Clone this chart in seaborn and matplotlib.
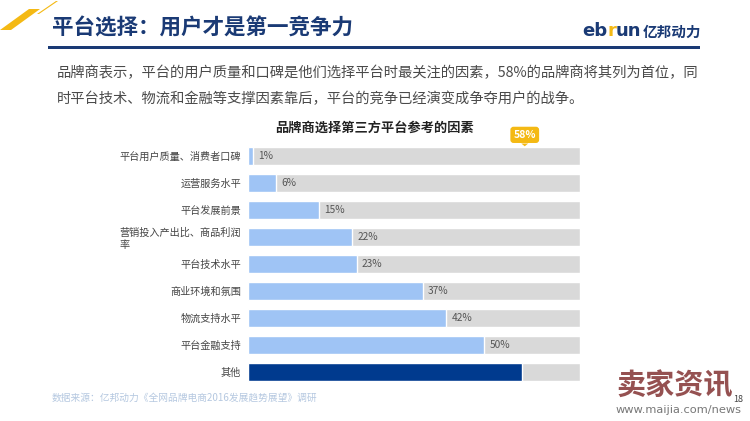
import matplotlib
matplotlib.use("Agg")
import matplotlib.pyplot as plt
from matplotlib.patches import Polygon
import seaborn as sns
import pandas as pd

# data
factors = ["平台用户质量、消费者口碑", "运营服务水平", "平台发展前景",
           "营销投入产出比、商品利润\n率", "平台技术水平", "商业环境和氛围",
           "物流支持水平", "平台金融支持", "其他"]
values = [1, 6, 15, 22, 23, 37, 42, 50, 58]
value_labels = ["1%", "6%", "15%", "22%", "23%", "37%", "42%", "50%", ""]
track_max = 70.3
callout_value = 58

sns.set_style("white")
plt.rcParams['font.family'] = ['Noto Sans CJK SC', 'DejaVu Sans']

LIGHT = "#9fc4f5"
DARK = "#003a8e"
GRAY = "#d9d9d9"
NAVY = "#1a3a75"
YELLOW = "#f4b914"

df = pd.DataFrame({"factor": factors, "value": values,
                   "track": [track_max] * len(factors)})
colors = [LIGHT] * (len(factors) - 1) + [DARK]

fig = plt.figure(figsize=(7.5, 4.21), dpi=100)
W, H = 750, 421

def fx(px):
    return px / W

def fy(py):
    return 1 - py / H

def poly(pts, color):
    fig.patches.append(Polygon([[fx(a), fy(b)] for a, b in pts], closed=True,
                               transform=fig.transFigure, color=color, lw=0))

# header decoration
poly([(0, 30), (11, 30), (40, 9), (29, 9)], YELLOW)
poly([(37, 14), (39, 14), (58, 1), (56, 1)], YELLOW)
poly([(48, 45.5), (700, 45.5), (700, 48.5), (48, 48.5)], NAVY)

fig.text(fx(52), fy(28), "平台选择：用户才是第一竞争力", fontsize=15.5, fontweight="bold",
         color=NAVY, va="center", ha="left")

# logo
for part, px, col in [("eb", 582, NAVY), ("r", 607.5, YELLOW), ("un", 616, NAVY)]:
    fig.text(fx(px), fy(31), part, fontsize=13, fontweight="bold", color=col,
             va="center", ha="left", family="DejaVu Sans")
fig.text(fx(643), fy(32), "亿邦动力", fontsize=10.5, fontweight="bold", color=NAVY,
         va="center", ha="left")

para1 = "品牌商表示，平台的用户质量和口碑是他们选择平台时最关注的因素，58%的品牌商将其列为首位，同"
para2 = "时平台技术、物流和金融等支撑因素靠后，平台的竞争已经演变成争夺用户的战争。"
fig.text(fx(57), fy(73), para1, fontsize=10.3, color="#4a4a4a", va="center", ha="left")
fig.text(fx(57), fy(99), para2, fontsize=10.3, color="#4a4a4a", va="center", ha="left")

fig.text(fx(375), fy(128), "品牌商选择第三方平台参考的因素", fontsize=9.5, fontweight="bold",
         color="#222222", va="center", ha="center")

# chart
ax = fig.add_axes([fx(248), fy(385.5), fx(580) - fx(248), (385.5 - 142.5) / H])
sns.barplot(data=df, x="track", y="factor", color=GRAY, saturation=1, width=0.63, ax=ax)
sns.barplot(data=df, x="value", y="factor", hue="factor", palette=colors, saturation=1,
            width=0.63, legend=False, ax=ax)
ax.set_xlim(0, track_max)
ax.set_xlabel("")
ax.set_ylabel("")
ax.set_xticks([])
sns.despine(ax=ax, left=True, bottom=True)
ax.tick_params(axis="y", length=0, pad=5)
for lab in ax.get_yticklabels():
    lab.set_fontsize(7.3)
    lab.set_color("#444444")
    lab.set_multialignment("left")

for i, (v, t) in enumerate(zip(values, value_labels)):
    if t:
        ax.text(v + 1.1, i, t, va="center", ha="left", fontsize=7.3, color="#555555")

ax.annotate(f"{callout_value}%", xy=(callout_value + 0.6, -0.32), xytext=(0, 9),
            textcoords="offset points", ha="center", va="center",
            fontsize=7.5, color="white", fontweight="bold",
            bbox=dict(boxstyle="round,pad=0.3", fc=YELLOW, ec="none"))
ax.annotate("", xy=(callout_value + 0.6, -0.36), xytext=(0, 4), textcoords="offset points",
            arrowprops=dict(arrowstyle="wedge,tail_width=0.5", color=YELLOW, lw=0))

fig.text(fx(52), fy(398), "数据来源：亿邦动力《全网品牌电商2016发展趋势展望》调研",
         fontsize=7, color="#b5c8e0", va="center", ha="left")

# watermark
fig.text(fx(616), fy(385), "卖家资讯", fontsize=21, fontweight="bold", color="#8a3e3e",
         va="center", ha="left", alpha=0.9)
fig.text(fx(616), fy(410), "www.maijia.com/news", fontsize=8.2, color="#777777",
         va="center", ha="left", family="DejaVu Sans")
fig.text(fx(738), fy(399), "18", fontsize=6.5, color="#444444", va="center", ha="center")

fig.savefig("out.png", dpi=100)
